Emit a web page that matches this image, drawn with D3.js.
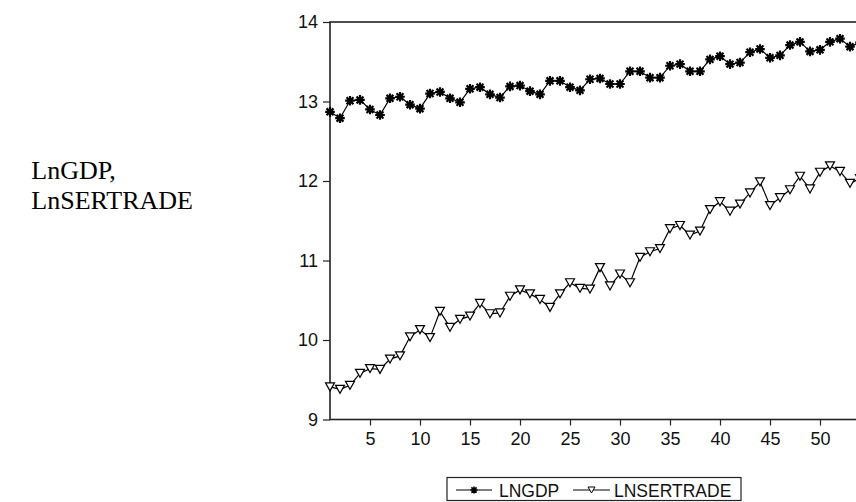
<!DOCTYPE html>
<html>
<head>
<meta charset="utf-8">
<script src="https://cdn.jsdelivr.net/npm/d3@7/dist/d3.min.js"></script>
<style>
  body { margin: 0; background: #fff; }
  svg { display: block; }
</style>
</head>
<body>
<div id="chart"></div>
<script>
// observations 1..54 (54 runs just past the right edge)
var periods = d3.range(1, 55);
var lngdp = [12.87, 12.79, 13.01, 13.02, 12.90, 12.83, 13.04, 13.06, 12.96, 12.91,
             13.10, 13.12, 13.04, 12.99, 13.16, 13.18, 13.09, 13.05, 13.19, 13.20,
             13.13, 13.09, 13.26, 13.26, 13.18, 13.14, 13.28, 13.29, 13.22, 13.22,
             13.38, 13.38, 13.30, 13.30, 13.45, 13.47, 13.38, 13.38, 13.53, 13.57,
             13.47, 13.49, 13.62, 13.66, 13.55, 13.58, 13.71, 13.75, 13.63, 13.65,
             13.75, 13.79, 13.69, 13.74];
var lnsertrade = [9.41, 9.38, 9.43, 9.58, 9.64, 9.63, 9.76, 9.80, 10.04, 10.13,
                  10.03, 10.36, 10.16, 10.26, 10.30, 10.46, 10.33, 10.34, 10.55, 10.63,
                  10.58, 10.51, 10.41, 10.58, 10.72, 10.65, 10.64, 10.91, 10.68, 10.83,
                  10.72, 11.04, 11.11, 11.15, 11.40, 11.44, 11.32, 11.37, 11.64, 11.74,
                  11.62, 11.71, 11.85, 11.99, 11.69, 11.79, 11.89, 12.06, 11.90, 12.11,
                  12.19, 12.12, 11.97, 12.03];
var xTicks = [5, 10, 15, 20, 25, 30, 35, 40, 45, 50];
var yTicks = [9, 10, 11, 12, 13, 14];
var seriesNames = ["LNGDP", "LNSERTRADE"];
var axisTitle = ["LnGDP,", "LnSERTRADE"];

var width = 856, height = 502;
var svg = d3.select("#chart").append("svg")
    .attr("width", width).attr("height", height);

var x = d3.scaleLinear().domain([1, 54]).range([330, 860]);
var y = d3.scaleLinear().domain([9, 14]).range([419.5, 22]);

var tickFont = "'Liberation Sans', Arial, sans-serif";

// frame
svg.append("rect")
    .attr("x", x(1)).attr("y", y(14))
    .attr("width", x(54) - x(1)).attr("height", y(9) - y(14))
    .attr("fill", "none").attr("stroke", "#222").attr("stroke-width", 1.6);

var yAxis = svg.append("g")
    .attr("transform", "translate(" + x(1) + ",0)")
    .call(d3.axisLeft(y).tickValues(yTicks).tickFormat(d3.format("d"))
          .tickSize(7).tickSizeOuter(0).tickPadding(5));

var xAxis = svg.append("g")
    .attr("transform", "translate(0," + y(9) + ")")
    .call(d3.axisBottom(x).tickValues(xTicks).tickFormat(d3.format("d"))
          .tickSize(6).tickSizeOuter(0).tickPadding(7));

[xAxis, yAxis].forEach(function(a){
  a.select(".domain").remove();
  a.selectAll("line").attr("stroke", "#222").attr("stroke-width", 1.2);
  a.selectAll("text").attr("font-family", tickFont).attr("font-size", 18).attr("fill", "#111");
});

// markers
function starPath(r) {
  var d = r * 0.72;
  return "M" + (-r) + ",0L" + r + ",0M0," + (-r) + "L0," + r +
         "M" + (-d) + "," + (-d) + "L" + d + "," + d +
         "M" + (-d) + "," + d + "L" + d + "," + (-d);
}
var triPath = "M-4.5,-4L4.5,-4L0,4Z";

var gdpPts = periods.map(function(p, i){ return [p, lngdp[i]]; });
var serPts = periods.map(function(p, i){ return [p, lnsertrade[i]]; });

var line = d3.line()
    .x(function(d){ return x(d[0]); })
    .y(function(d){ return y(d[1]); });

svg.append("path").datum(gdpPts)
    .attr("d", line).attr("fill", "none").attr("stroke", "#000").attr("stroke-width", 1.2);
svg.append("path").datum(serPts)
    .attr("d", line).attr("fill", "none").attr("stroke", "#000").attr("stroke-width", 1.2);

svg.append("g").selectAll("path").data(gdpPts).enter().append("path")
    .attr("transform", function(d){ return "translate(" + x(d[0]) + "," + y(d[1]) + ")"; })
    .attr("d", starPath(4.8))
    .attr("stroke", "#000").attr("stroke-width", 2.2).attr("fill", "none");

svg.append("g").selectAll("path").data(serPts).enter().append("path")
    .attr("transform", function(d){ return "translate(" + x(d[0]) + "," + y(d[1]) + ")"; })
    .attr("d", triPath)
    .attr("stroke", "#000").attr("stroke-width", 1.2).attr("fill", "#fff");

// left title, two lines, right end of the long line near x=193
var title = svg.append("g")
    .attr("font-family", "'Liberation Serif', 'Times New Roman', serif")
    .attr("font-size", 26).attr("fill", "#000");
var t2 = title.append("text").attr("y", 209).text(axisTitle[1]);
var tx = 193 - t2.node().getComputedTextLength();
t2.attr("x", tx);
title.append("text").attr("x", tx).attr("y", 179).text(axisTitle[0]);

// legend
var leg = svg.append("g");
leg.append("rect")
    .attr("x", 447).attr("y", 477.5).attr("width", 294).attr("height", 23)
    .attr("fill", "#fff").attr("stroke", "#222").attr("stroke-width", 1.2);

var legItems = [
  {name: seriesNames[0], x0: 456, x1: 492, text: 499, marker: "star"},
  {name: seriesNames[1], x0: 573, x1: 610, text: 614, marker: "tri"}
];
legItems.forEach(function(it){
  var cy = 490;
  leg.append("line").attr("x1", it.x0).attr("x2", it.x1).attr("y1", cy).attr("y2", cy)
      .attr("stroke", "#000").attr("stroke-width", 1.2);
  var m = leg.append("path")
      .attr("transform", "translate(" + ((it.x0 + it.x1) / 2) + "," + cy + ")")
      .attr("stroke", "#000");
  if (it.marker === "star") m.attr("d", starPath(3.6)).attr("stroke-width", 1.6).attr("fill", "none");
  else m.attr("d", "M-3.5,-3L3.5,-3L0,3Z").attr("stroke-width", 1).attr("fill", "#fff");
  leg.append("text").attr("x", it.text).attr("y", cy + 6.5)
      .attr("font-family", tickFont).attr("font-size", 17.5).attr("fill", "#111")
      .text(it.name);
});
</script>
</body>
</html>
